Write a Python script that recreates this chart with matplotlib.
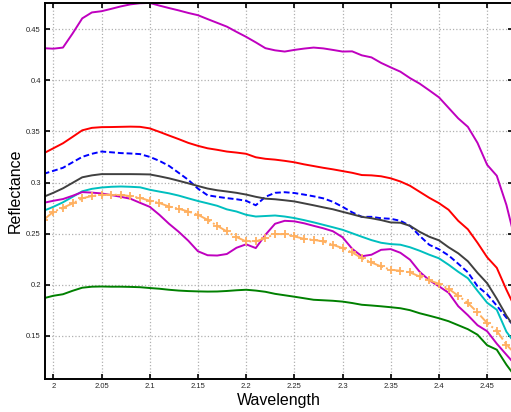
import matplotlib
matplotlib.use('Agg')

import numpy as np
import matplotlib.pyplot as plt

plt.rcParams['font.family'] = ['Liberation Sans', 'DejaVu Sans']

wavelength = [1.99, 2.00, 2.01, 2.02, 2.03, 2.04, 2.05, 2.06, 2.07, 2.08,
              2.09, 2.10, 2.11, 2.12, 2.13, 2.14, 2.15, 2.16, 2.17, 2.18,
              2.19, 2.20, 2.21, 2.22, 2.23, 2.24, 2.25, 2.26, 2.27, 2.28,
              2.29, 2.30, 2.31, 2.32, 2.33, 2.34, 2.35, 2.36, 2.37, 2.38,
              2.39, 2.40, 2.41, 2.42, 2.43, 2.44, 2.45, 2.46, 2.47, 2.48]

magenta_top = [0.4315, 0.431, 0.4321, 0.4459, 0.4607, 0.4665, 0.4677, 0.470, 0.4724, 0.4744,
               0.4755, 0.4758, 0.4732, 0.4708, 0.4685, 0.466, 0.4638, 0.460, 0.4563, 0.4526,
               0.4475, 0.4426, 0.4372, 0.4315, 0.4294, 0.4282, 0.4298, 0.4311, 0.4321, 0.4313,
               0.4298, 0.4282, 0.4284, 0.4245, 0.4225, 0.4171, 0.4127, 0.4085, 0.4022, 0.3968,
               0.3902, 0.3834, 0.3731, 0.3628, 0.3545, 0.3388, 0.3173, 0.3066, 0.278, 0.240]

red = [0.3286, 0.3335, 0.3384, 0.3447, 0.3511, 0.3535, 0.3542, 0.3543, 0.3545, 0.3547,
       0.3545, 0.353, 0.3496, 0.346, 0.3425, 0.3388, 0.3359, 0.3335, 0.332, 0.3303,
       0.3293, 0.3281, 0.3247, 0.3232, 0.3224, 0.3212, 0.3198, 0.3178, 0.3161, 0.3144,
       0.3129, 0.3112, 0.3095, 0.3073, 0.307, 0.3061, 0.3041, 0.301, 0.2968, 0.2909,
       0.285, 0.2798, 0.2733, 0.2625, 0.2542, 0.241, 0.2268, 0.2165, 0.195, 0.1754]

blue = [0.3085, 0.3114, 0.3144, 0.3198, 0.3251, 0.3281, 0.3303, 0.3296, 0.3288, 0.3284,
        0.3278, 0.3251, 0.3212, 0.3163, 0.3095, 0.3026, 0.294, 0.2875, 0.286, 0.2847,
        0.2836, 0.2821, 0.2777, 0.286, 0.2899, 0.2905, 0.2897, 0.2882, 0.2865, 0.2845,
        0.2811, 0.2762, 0.2708, 0.2664, 0.2664, 0.265, 0.2645, 0.2625, 0.2576, 0.2478,
        0.239, 0.2346, 0.2286, 0.2205, 0.2121, 0.1984, 0.1906, 0.1794, 0.1676, 0.1578]

gray = [0.286, 0.2899, 0.2943, 0.2997, 0.3051, 0.307, 0.3082, 0.3082, 0.3082, 0.3082,
        0.3081, 0.3079, 0.3061, 0.3041, 0.3017, 0.2992, 0.2966, 0.2941, 0.2924, 0.2912,
        0.2899, 0.2882, 0.286, 0.2842, 0.2836, 0.2826, 0.2815, 0.2796, 0.2777, 0.2757,
        0.2738, 0.2713, 0.2689, 0.2664, 0.265, 0.2632, 0.2609, 0.2606, 0.2576, 0.2517,
        0.2469, 0.2434, 0.2366, 0.2307, 0.2229, 0.2116, 0.2014, 0.1862, 0.1696, 0.156]

cyan = [0.2723, 0.2762, 0.2806, 0.286, 0.2914, 0.2938, 0.2951, 0.2958, 0.2961, 0.2958,
        0.2953, 0.2929, 0.2911, 0.2894, 0.2872, 0.2845, 0.2819, 0.2796, 0.2772, 0.2737,
        0.2716, 0.2684, 0.2667, 0.2672, 0.2677, 0.2667, 0.2652, 0.2632, 0.261, 0.2586,
        0.2562, 0.2537, 0.2503, 0.2469, 0.2436, 0.241, 0.2397, 0.2391, 0.2366, 0.2332,
        0.2293, 0.2258, 0.2195, 0.2126, 0.2063, 0.194, 0.1823, 0.1754, 0.1539, 0.1412]

magenta_low = [0.2801, 0.2821, 0.2838, 0.287, 0.2906, 0.2901, 0.2893, 0.2877, 0.286, 0.2841,
               0.2801, 0.2762, 0.2684, 0.2596, 0.2518, 0.243, 0.2327, 0.2288, 0.2285, 0.230,
               0.2361, 0.2395, 0.2358, 0.2488, 0.2596, 0.2625, 0.262, 0.2601, 0.2576, 0.2552,
               0.2523, 0.2464, 0.2351, 0.2278, 0.2293, 0.2341, 0.2348, 0.2312, 0.2244, 0.2126,
               0.2043, 0.1984, 0.1921, 0.1789, 0.1701, 0.1603, 0.1544, 0.1422, 0.1314, 0.1207]

orange = [0.2635, 0.2713, 0.2752, 0.2796, 0.2845, 0.2868, 0.288, 0.288, 0.288, 0.2866,
          0.285, 0.2821, 0.2799, 0.2765, 0.2743, 0.2716, 0.2684, 0.2635, 0.2576, 0.2521,
          0.2466, 0.2423, 0.2423, 0.2456, 0.2495, 0.2495, 0.2472, 0.2449, 0.2439, 0.2423,
          0.239, 0.2358, 0.2315, 0.226, 0.2217, 0.2178, 0.2146, 0.2136, 0.2119, 0.208,
          0.2041, 0.2009, 0.196, 0.1891, 0.182, 0.1728, 0.1624, 0.1549, 0.1412, 0.1314]

green = [0.1867, 0.1891, 0.1906, 0.194, 0.197, 0.198, 0.1982, 0.198, 0.198, 0.1978,
         0.1975, 0.1967, 0.196, 0.195, 0.1942, 0.1937, 0.1934, 0.1932, 0.1933, 0.1938,
         0.1945, 0.195, 0.1942, 0.193, 0.191, 0.1896, 0.1882, 0.1867, 0.1852, 0.1847,
         0.1842, 0.1834, 0.182, 0.1803, 0.1796, 0.1788, 0.1779, 0.1769, 0.175, 0.172,
         0.1696, 0.1671, 0.1642, 0.1603, 0.1564, 0.151, 0.1407, 0.1363, 0.1216, 0.1089]

fig = plt.figure(figsize=(5.11, 4.12), dpi=100)
ax = fig.add_axes([0.0881, 0.0801, 0.9159, 0.9126])

lw = 1.4
ax.plot(wavelength, magenta_top, color='#bf00bf', lw=lw)
ax.plot(wavelength, red, color='#ff0000', lw=lw)
ax.plot(wavelength, blue, color='#0000ff', lw=lw, ls=(0, (3, 1.5)))
ax.plot(wavelength, gray, color='#404040', lw=lw)
ax.plot(wavelength, cyan, color='#00bfbf', lw=lw)
ax.plot(wavelength, magenta_low, color='#bf00bf', lw=lw)
ax.plot(wavelength, orange, color='#ffb060', lw=lw, ls='-.', marker='+',
        markersize=6, markeredgewidth=1.3)
ax.plot(wavelength, green, color='#008000', lw=lw)

ax.set_xlim(1.99139, 2.47687)
ax.set_ylim(0.10763, 0.47573)
ax.set_xticks(np.arange(2.0, 2.46, 0.05))
ax.set_xticklabels(['2', '2.05', '2.1', '2.15', '2.2', '2.25', '2.3', '2.35', '2.4', '2.45'])
ax.set_yticks([0.15, 0.2, 0.25, 0.3, 0.35, 0.4, 0.45])
ax.set_yticklabels(['0.15', '0.2', '0.25', '0.3', '0.35', '0.4', '0.45'])

ax.grid(True, ls=':', color='#b0b0b0', lw=0.9)
ax.tick_params(direction='in', length=3.6, width=1.2, top=True, right=True,
               labelsize=5.5, labelcolor='#262626', pad=3)
for s in ax.spines.values():
    s.set_linewidth(1.4)

ax.set_xlabel('Wavelength', fontsize=11.5)
ax.set_ylabel('Reflectance', fontsize=11.5)
ax.xaxis.set_label_coords(0.5, -0.056)
ax.xaxis.label.set_va('center')
ax.yaxis.set_label_coords(-0.064, 0.5)
ax.yaxis.label.set_va('center')

plt.savefig('out.png', dpi=100)
